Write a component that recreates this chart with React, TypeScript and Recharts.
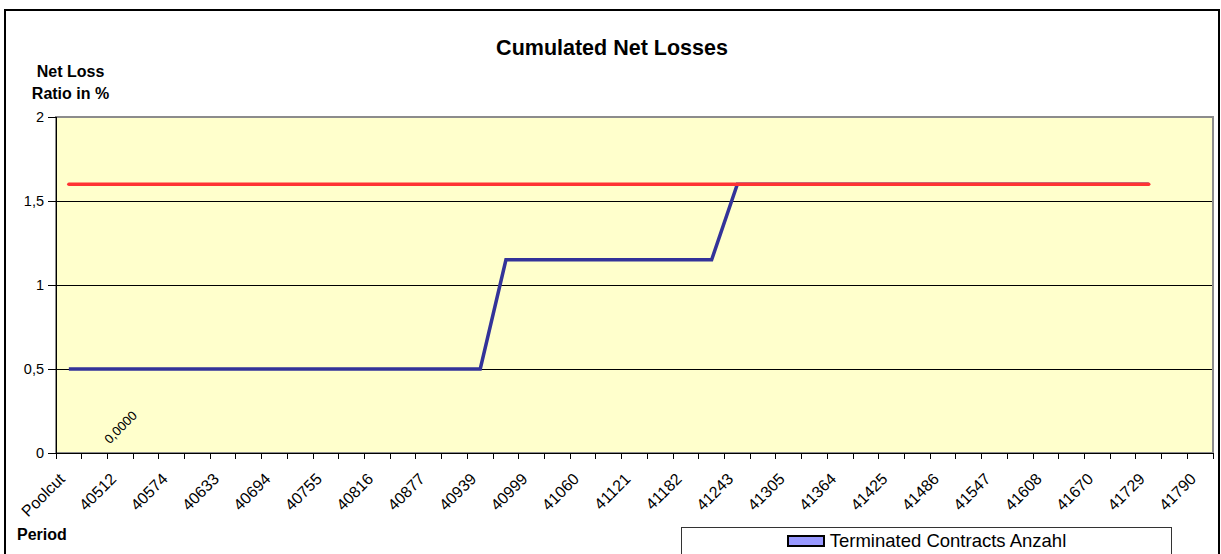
import React from 'react';
import {
  ComposedChart,
  Line,
  XAxis,
  YAxis,
  CartesianGrid,
  ReferenceArea,
  Legend,
  LabelList,
} from 'recharts';

const FONT = '"Liberation Sans", Arial, Helvetica, sans-serif';

const categories = [
  'Poolcut', '40482', '40512', '40543', '40574', '40602', '40633', '40663', '40694',
  '40724', '40755', '40786', '40816', '40847', '40877', '40908', '40939', '40968',
  '40999', '41029', '41060', '41090', '41121', '41152', '41182', '41213', '41243',
  '41274', '41305', '41333', '41364', '41394', '41425', '41455', '41486', '41517',
  '41547', '41578', '41608', '41639', '41670', '41698', '41729', '41759', '41790',
];

const cumulatedNetLoss = [
  0.5, 0.5, 0.5, 0.5, 0.5, 0.5, 0.5, 0.5, 0.5, 0.5, 0.5, 0.5, 0.5, 0.5, 0.5, 0.5, 0.5,
  1.15, 1.15, 1.15, 1.15, 1.15, 1.15, 1.15, 1.15, 1.15,
  1.6, 1.6, 1.6, 1.6, 1.6, 1.6, 1.6, 1.6, 1.6, 1.6, 1.6, 1.6, 1.6, 1.6, 1.6, 1.6, 1.6,
  null, null,
];

const triggerLevel = [
  1.6, 1.6, 1.6, 1.6, 1.6, 1.6, 1.6, 1.6, 1.6, 1.6, 1.6, 1.6, 1.6, 1.6, 1.6,
  1.6, 1.6, 1.6, 1.6, 1.6, 1.6, 1.6, 1.6, 1.6, 1.6, 1.6, 1.6, 1.6, 1.6, 1.6,
  1.6, 1.6, 1.6, 1.6, 1.6, 1.6, 1.6, 1.6, 1.6, 1.6, 1.6, 1.6, 1.6,
  null, null,
];

const terminatedContracts = [
  null, null, 0, null, null, null, null, null, null, null, null, null, null, null, null,
  null, null, null, null, null, null, null, null, null, null, null, null, null, null, null,
  null, null, null, null, null, null, null, null, null, null, null, null, null, null, null,
];

const yTicks = [0, 0.5, 1, 1.5, 2];

const data = categories.map((c, i) => ({
  idx: i,
  label: c,
  loss: cumulatedNetLoss[i],
  trigger: triggerLevel[i],
  terminated: terminatedContracts[i],
}));

const boundaryTicks = categories.map((_, i) => i - 0.5).concat([categories.length - 0.5]);
const labelTicks = categories.map((_, i) => i).filter((i) => i % 2 === 0);
const xTicks = [...boundaryTicks, ...labelTicks].sort((a, b) => a - b);

const XTick = (props: any) => {
  const { x, y, payload } = props;
  const v = payload.value;
  if (!Number.isInteger(v)) {
    return (
      <line x1={x} x2={x} y1={y} y2={y + 6} stroke="#000" strokeWidth={1} shapeRendering="crispEdges" />
    );
  }
  const tx = x - 3;
  const ty = y + 27;
  return (
    <text
      x={tx}
      y={ty}
      transform={`rotate(-45 ${tx} ${ty})`}
      textAnchor="end"
      fontSize={16}
      fontFamily={FONT}
      fill="#000"
    >
      {categories[v]}
    </text>
  );
};

const fmtComma = (v: number) => String(v).replace('.', ',');

const TerminatedLabel = (props: any) => {
  const { x, y, value } = props;
  if (value === null || value === undefined || x == null || y == null) return null;
  const cx = x + 1;
  const cy = y - 25;
  return (
    <text
      x={cx}
      y={cy}
      transform={`rotate(-45 ${cx} ${cy})`}
      textAnchor="middle"
      dominantBaseline="middle"
      fontSize={13}
      fontFamily={FONT}
      fill="#000"
    >
      {Number(value).toFixed(4).replace('.', ',')}
    </text>
  );
};

const LegendBox = (props: any) => {
  const items = (props.payload || []).filter((p: any) => p.type !== 'none');
  return (
    <div
      style={{
        border: '1px solid #333',
        background: '#fff',
        height: 60,
        boxSizing: 'border-box',
        paddingTop: 3,
        fontFamily: FONT,
        fontSize: 18.5,
        lineHeight: '20px',
        textAlign: 'center',
        color: '#000',
      }}
    >
      {items.map((it: any) => (
        <div key={it.value}>
          <span
            style={{
              display: 'inline-block',
              width: 34,
              height: 8,
              border: '2px solid #000',
              background: '#9999FF',
              marginRight: 5,
            }}
          />
          {it.value}
        </div>
      ))}
    </div>
  );
};

export default function App() {
  return (
    <div
      style={{
        position: 'absolute',
        left: 0,
        top: 0,
        width: 1221,
        height: 554,
        overflow: 'hidden',
        background: '#fff',
      }}
    >
      <div
        style={{
          position: 'absolute',
          left: 4,
          top: 9,
          width: 1216,
          height: 620,
          border: '2px solid #000',
          boxSizing: 'border-box',
        }}
      />
      <div style={{ position: 'absolute', left: 0, top: 0 }}>
        <ComposedChart
          width={1221}
          height={554}
          data={data}
          margin={{ top: 117, right: 8, bottom: 41, left: 0 }}
        >
          <CartesianGrid vertical={false} stroke="#000" fill="#FFFFCC" shapeRendering="crispEdges" />
          <ReferenceArea
            x1={-0.5}
            x2={categories.length - 0.5}
            y1={0}
            y2={2}
            fill="none"
            stroke="#8c8c8c"
            strokeWidth={2}
            ifOverflow="visible"
          />
          <XAxis
            dataKey="idx"
            type="number"
            domain={[-0.5, categories.length - 0.5]}
            ticks={xTicks}
            interval={0}
            tick={<XTick />}
            tickLine={false}
            tickSize={0}
            tickMargin={0}
            height={60}
            axisLine={{ stroke: '#000', strokeWidth: 1, shapeRendering: 'crispEdges' }}
          />
          <YAxis
            type="number"
            domain={[0, 2]}
            ticks={yTicks}
            interval={0}
            width={56}
            tickSize={8}
            tickMargin={4}
            tickFormatter={fmtComma}
            tick={{ fontSize: 14.5, fontFamily: FONT, fill: '#000' }}
            tickLine={{ stroke: '#000', shapeRendering: 'crispEdges' }}
            axisLine={{ stroke: '#000', strokeWidth: 1, shapeRendering: 'crispEdges' }}
          />
          <Line
            type="linear"
            dataKey="terminated"
            name="Terminated Contracts Anzahl"
            stroke="#9999FF"
            strokeWidth={0}
            dot={false}
            legendType="rect"
            isAnimationActive={false}
          >
            <LabelList dataKey="terminated" content={<TerminatedLabel />} />
          </Line>
          <Line
            type="linear"
            dataKey="loss"
            name="Cumulated Net Loss"
            stroke="#333399"
            strokeWidth={3.5}
            dot={false}
            legendType="none"
            isAnimationActive={false}
          />
          <Line
            type="linear"
            dataKey="trigger"
            name="Trigger"
            stroke="#FF3333"
            strokeWidth={3.5}
            strokeLinecap="round"
            dot={false}
            legendType="none"
            isAnimationActive={false}
          />
          <Legend
            layout="vertical"
            align="center"
            verticalAlign="middle"
            content={<LegendBox />}
            wrapperStyle={{ position: 'absolute', left: 681, top: 527, width: 491, height: 60 }}
          />
          <text x={612} y={55} textAnchor="middle" fontSize={21.5} fontWeight="bold" fontFamily={FONT} fill="#000">
            Cumulated Net Losses
          </text>
          <text x={70.5} y={77} textAnchor="middle" fontSize={16} fontWeight="bold" fontFamily={FONT} fill="#000">
            Net Loss
          </text>
          <text x={70.5} y={98.5} textAnchor="middle" fontSize={16} fontWeight="bold" fontFamily={FONT} fill="#000">
            Ratio in %
          </text>
          <text x={17} y={540} textAnchor="start" fontSize={16} fontWeight="bold" fontFamily={FONT} fill="#000">
            Period
          </text>
        </ComposedChart>
      </div>
    </div>
  );
}
